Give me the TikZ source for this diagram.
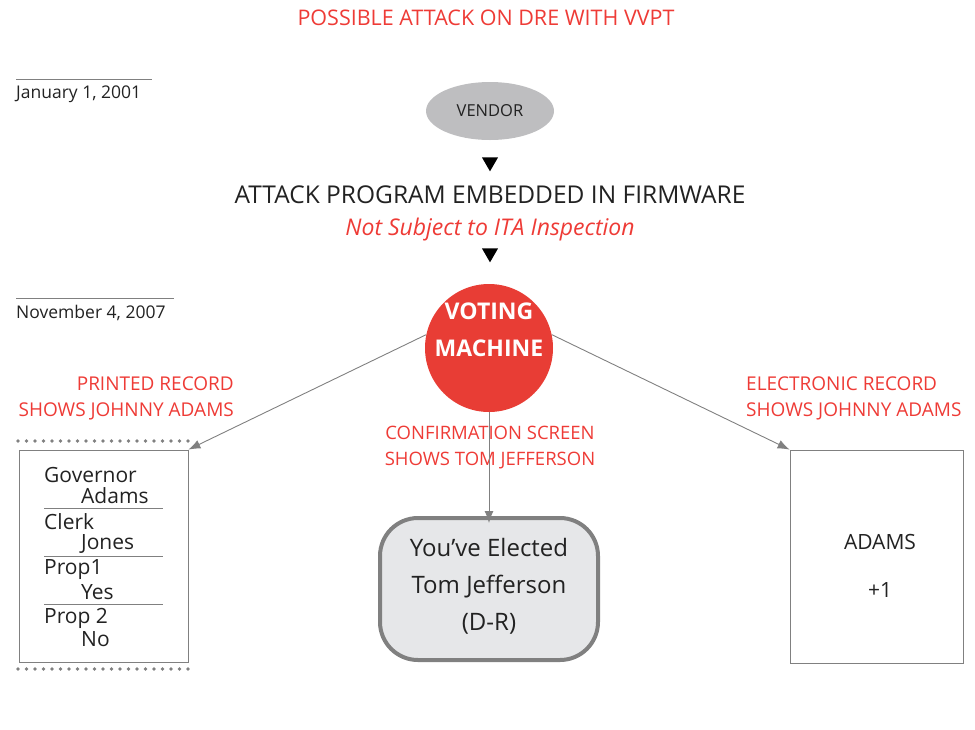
\documentclass[tikz,border=0pt]{standalone}
\usepackage{fontspec}
\setmainfont{Open Sans}
\usetikzlibrary{arrows.meta,shapes.geometric}
\definecolor{vred}{HTML}{E83D35}
\definecolor{tred}{HTML}{EE3B36}
\definecolor{lgray}{HTML}{BEBEC0}
\definecolor{sgray}{HTML}{E6E7E9}
\definecolor{lnc}{HTML}{808080}
\definecolor{txt}{HTML}{222222}
\tikzset{
  redlbl/.style={text=tred, font=\fontsize{14}{16}\selectfont, inner sep=0pt},
  datelbl/.style={font=\fontsize{17.5}{19}\selectfont, anchor=west, inner sep=0pt, text=txt},
  ballot/.style={font=\fontsize{21}{23}\selectfont, anchor=west, inner sep=0pt, text=txt},
  conn/.style={draw=lnc, line width=0.9pt, -{Latex[length=12pt,width=9pt]}},
  tri/.style={isosceles triangle, isosceles triangle apex angle=60, shape border rotate=-90, fill=black, inner sep=0pt, minimum height=14pt},
  dots/.style={lnc, line width=3.8pt, line cap=round, dash pattern=on 0pt off 8.5pt},
}
\begin{document}
\begin{tikzpicture}[x=1pt,y=-1pt]
\useasboundingbox (0,0) rectangle (975,729);
\node[redlbl, font=\fontsize{21.5}{23}\selectfont] (title) at (486,18) {POSSIBLE ATTACK ON DRE WITH VVPT};
% dates
\coordinate (d1a) at (16,79); \coordinate (d1b) at (152,79);
\draw[lnc, line width=0.6pt] (d1a) -- (d1b);
\node[datelbl] (date1) at (16,94) {January 1, 2001};
\coordinate (d2a) at (16,298); \coordinate (d2b) at (174,298);
\draw[lnc, line width=0.6pt] (d2a) -- (d2b);
\node[datelbl] (date2) at (16,313) {November 4, 2007};
% vendor
\node[ellipse, fill=lgray, minimum width=128pt, minimum height=58pt, font=\fontsize{16.5}{18}\selectfont, text=txt] (vendor) at (490,111) {VENDOR};
\node[tri] (t1) at (490,162) {};
\node[font=\fontsize{24.5}{26}\selectfont, text=txt, inner sep=0pt] (attack) at (490,195) {ATTACK PROGRAM EMBEDDED IN FIRMWARE};
\node[text=tred, font=\fontsize{23}{25}\itshape\selectfont, inner sep=0pt] (ita) at (490,230) {Not Subject to ITA Inspection};
\node[tri] (t2) at (490,253) {};
% voting machine
\node[circle, fill=vred, minimum size=128pt, inner sep=0pt] (vm) at (489,348) {};
\node[text=white, font=\fontsize{23}{37}\bfseries\selectfont, align=center, inner sep=0pt] (vmtxt) at (489,329.5) {VOTING\\MACHINE};
% labels
\node[redlbl, align=right, anchor=east, font=\fontsize{19}{26}\selectfont] (plbl) at (234,398) {PRINTED RECORD\\SHOWS JOHNNY ADAMS};
\node[redlbl, align=center, font=\fontsize{18.5}{26}\selectfont] (clbl) at (490,448) {CONFIRMATION SCREEN\\SHOWS TOM JEFFERSON};
\node[redlbl, align=left, anchor=west, font=\fontsize{19}{26}\selectfont] (elbl) at (746,398) {ELECTRONIC RECORD\\SHOWS JOHNNY ADAMS};
% paper
\node[draw=lnc, line width=0.8pt, minimum width=169pt, minimum height=212pt, inner sep=0pt] (paper) at (103.5,556) {};
\coordinate (pd1a) at (18,441); \coordinate (pd1b) at (188,441);
\coordinate (pd2a) at (18,669); \coordinate (pd2b) at (188,669);
\draw[dots] (pd1a) -- (pd1b);
\draw[dots] (pd2a) -- (pd2b);
\node[ballot] (b1) at (44,475) {Governor};
\node[ballot] (b2) at (81,496) {Adams};
\node[ballot] (b3) at (44,522) {Clerk};
\node[ballot] (b4) at (81,544) {Jones};
\node[ballot] (b5) at (44,570) {Prop1};
\node[ballot] (b6) at (81,592) {Yes};
\node[ballot] (b7) at (44,618) {Prop 2};
\node[ballot] (b8) at (81,639) {No};
\foreach \yy/\nm in {508/s1,556/s2,604/s3}{
  \coordinate (\nm a) at (44,\yy); \coordinate (\nm b) at (163,\yy);
  \draw[lnc, line width=0.8pt] (\nm a) -- (\nm b);
}
% screen
\node[draw=lnc, line width=4pt, fill=sgray, rounded corners=38pt, minimum width=218pt, minimum height=142pt] (screen) at (489,589) {};
\node[align=center, font=\fontsize{24}{37}\selectfont, text=txt, inner sep=0pt] (scrtxt) at (489,586) {You’ve Elected\\Tom Jefferson\\(D-R)};
% electronic record
\node[draw=lnc, line width=0.8pt, minimum width=173pt, minimum height=213pt] (erec) at (876.5,556.5) {};
\node[font=\fontsize{21}{48}\selectfont, text=txt, align=center, inner sep=0pt] (erectxt) at (880,566) {ADAMS\\+1};
% connectors
\draw[conn] (vm.168) -- (paper.north east);
\draw[conn] (vm.12) -- (erec.north west);
\draw[conn] (vm.south) -- ([yshift=-7pt]screen.north);
\end{tikzpicture}
\end{document}
